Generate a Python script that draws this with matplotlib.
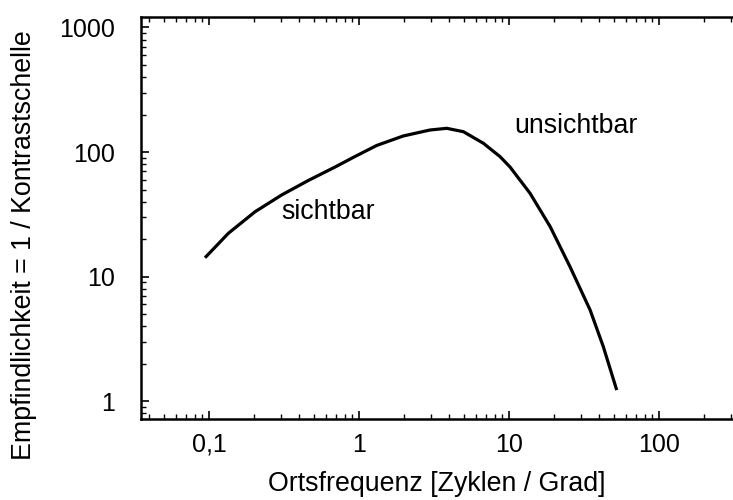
import matplotlib
matplotlib.use("Agg")
import matplotlib.pyplot as plt
from matplotlib.ticker import LogLocator, NullFormatter

plt.rcParams["font.family"] = ["Liberation Sans", "DejaVu Sans"]

# Kontrastempfindlichkeitskurve
freq = [0.094, 0.1345, 0.2025, 0.305, 0.459, 0.692, 0.94, 1.31, 1.97, 2.97,
        3.84, 4.96, 6.74, 8.71, 10.15, 13.8, 18.8, 25.5, 34.7, 42.5, 52.2]
sens = [14.2, 22.3, 33.2, 45.3, 59.2, 75.9, 92.2, 113.0, 134.7, 150.4,
        155.2, 145.8, 117.7, 91.9, 75.9, 46.7, 25.2, 12.0, 5.40, 2.74, 1.23]

x_ticks = [0.1, 1, 10, 100]
x_labels = ["0,1", "1", "10", "100"]
y_ticks = [1, 10, 100, 1000]
y_labels = ["1", "10", "100", "1000"]

fig = plt.figure(figsize=(7.33, 5.0), dpi=100)
ax = fig.add_axes([0.1924, 0.162, 0.8076, 0.804])

ax.plot(freq, sens, color="black", linewidth=2.3,
        solid_joinstyle="round", solid_capstyle="butt")

ax.set_xscale("log")
ax.set_yscale("log")
ax.set_xlim(0.0352, 311)
ax.set_ylim(0.721, 1214)

ax.set_xticks(x_ticks, x_labels)
ax.set_yticks(y_ticks, y_labels)
ax.xaxis.set_minor_locator(LogLocator(base=10, subs=range(2, 10)))
ax.yaxis.set_minor_locator(LogLocator(base=10, subs=range(2, 10)))
ax.xaxis.set_minor_formatter(NullFormatter())
ax.yaxis.set_minor_formatter(NullFormatter())

ax.tick_params(axis="x", which="both", direction="in", top=True, bottom=True,
               labelsize=18, pad=10)
ax.tick_params(axis="y", which="both", direction="in", left=True, right=False,
               labelsize=18, pad=18.5)
ax.tick_params(which="major", length=6, width=1.2)
ax.tick_params(which="minor", length=3.5, width=1.0)

for side in ["left", "top", "bottom"]:
    ax.spines[side].set_linewidth(1.8)
ax.spines["right"].set_visible(False)

ax.set_xlabel("Ortsfrequenz [Zyklen / Grad]", fontsize=19.3, labelpad=10)
ax.set_ylabel("Empfindlichkeit = 1 / Kontrastschelle", fontsize=19.3)
ax.yaxis.set_label_coords(-0.176, 0.433)

ax.text(0.618, 28.9, "sichtbar", fontsize=19.3, ha="center", va="baseline")
ax.text(28.0, 142.3, "unsichtbar", fontsize=19.3, ha="center", va="baseline")

fig.savefig("out.png", dpi=100)
